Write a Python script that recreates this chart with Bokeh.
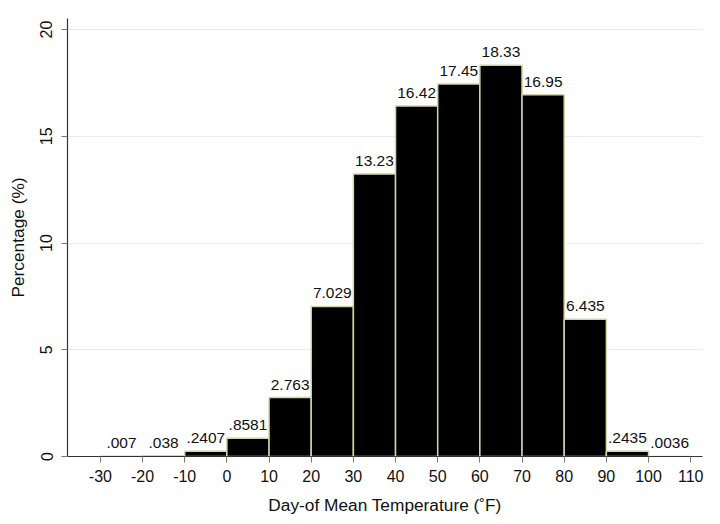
from bokeh.plotting import figure
from bokeh.models import ColumnDataSource, FixedTicker, Range1d
from bokeh.core.properties import value
from bokeh.embed import file_html
from bokeh.resources import INLINE

bin_left = [-30, -20, -10, 0, 10, 20, 30, 40, 50, 60, 70, 80, 90, 100]
bin_width = 10
percent = [0.007, 0.038, 0.2407, 0.8581, 2.763, 7.029, 13.23, 16.42, 17.45, 18.33, 16.95, 6.435, 0.2435, 0.0036]
labels = [".007", ".038", ".2407", ".8581", "2.763", "7.029", "13.23", "16.42", "17.45", "18.33", "16.95", "6.435", ".2435", ".0036"]
x_ticks = [-30, -20, -10, 0, 10, 20, 30, 40, 50, 60, 70, 80, 90, 100, 110]
y_ticks = [0, 5, 10, 15, 20]

src = ColumnDataSource(dict(
    left=bin_left,
    right=[b + bin_width for b in bin_left],
    mid=[b + bin_width / 2 for b in bin_left],
    top=percent,
    bottom=[0] * len(percent),
    lab=labels,
))

FONT = "Liberation Sans"
p = figure(output_backend="svg", toolbar_location=None,
           frame_width=635, frame_height=438,
           x_range=Range1d(-37.8, 112.8), y_range=Range1d(0, 20.52),
           min_border_left=67, min_border_right=10, min_border_top=18, min_border_bottom=62)
p.outline_line_color = None
p.background_fill_color = "white"

p.quad(left="left", right="right", top="top", bottom="bottom", source=src,
       fill_color="black", line_color="#d6d2a4", line_width=1.5)
p.text(x="mid", y="top", text="lab", source=src, text_align="center", text_baseline="bottom",
       y_offset=-8, text_font=value(FONT), text_font_size="15.5px", text_color="#111111")

p.xgrid.grid_line_color = None
p.ygrid.grid_line_color = "#e8eeee"
p.ygrid.grid_line_width = 1
p.ygrid.ticker = FixedTicker(ticks=y_ticks)

p.xaxis.ticker = FixedTicker(ticks=x_ticks)
p.xaxis.major_label_overrides = {t: str(t) for t in x_ticks}
p.yaxis.ticker = FixedTicker(ticks=y_ticks)
for ax in (p.xaxis[0], p.yaxis[0]):
    ax.axis_line_color = "#333333"
    ax.axis_line_width = 1.2
    ax.major_tick_line_color = "#777777"
    ax.major_tick_out = 6
    ax.major_tick_in = 0
    ax.minor_tick_line_color = None
    ax.major_label_text_font = FONT
    ax.major_label_text_font_size = "16px"
    ax.major_label_text_color = "#111111"
    ax.axis_label_text_font = FONT
    ax.axis_label_text_font_size = "17.3px"
    ax.axis_label_text_font_style = "normal"
    ax.axis_label_text_color = "#111111"

p.xaxis.axis_label = "Day-of Mean Temperature (˚F)"
p.yaxis.axis_label = "Percentage (%)"
p.yaxis.major_label_orientation = "vertical"
p.xaxis.major_label_standoff = 7
p.xaxis.axis_label_standoff = 10
p.yaxis.major_label_standoff = 9
p.yaxis.axis_label_standoff = 10

open("out.html", "w").write(file_html(p, INLINE))
